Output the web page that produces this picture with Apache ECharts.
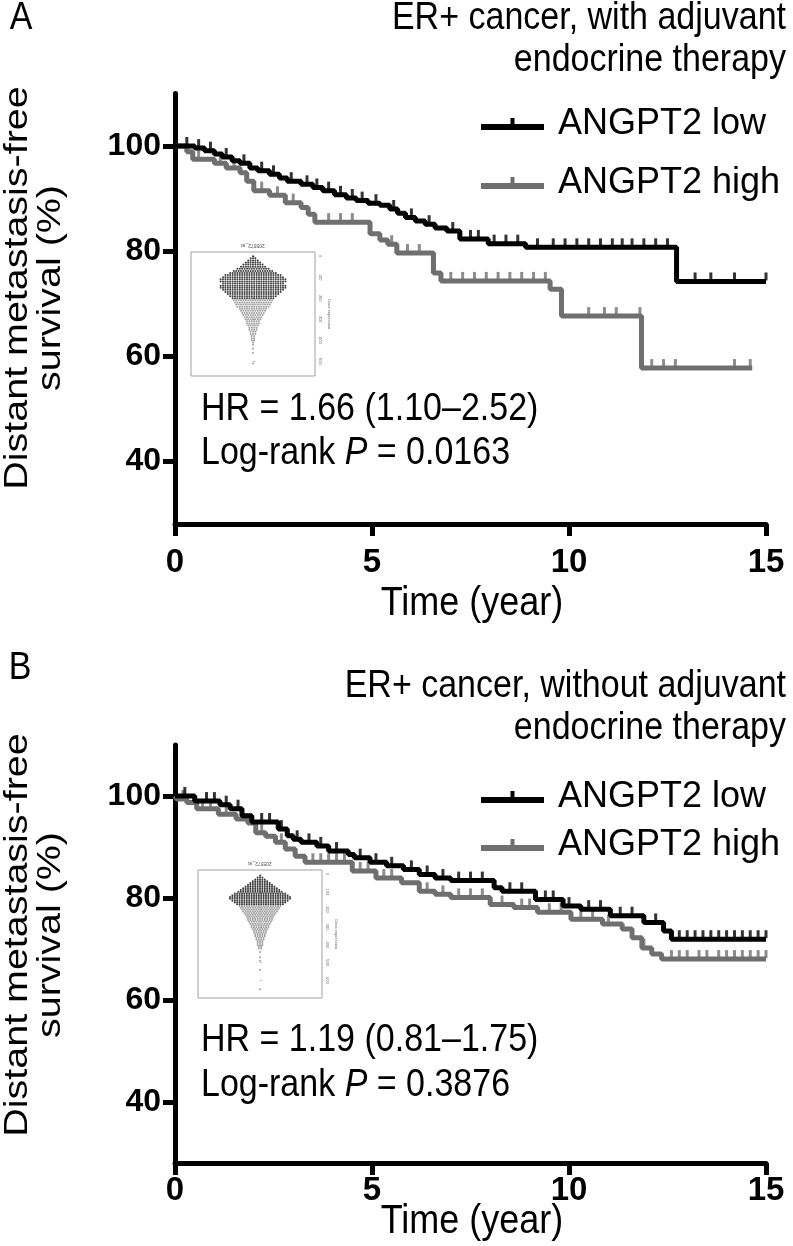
<!DOCTYPE html>
<html>
<head>
<meta charset="utf-8">
<script src="https://cdn.jsdelivr.net/npm/echarts@6/dist/echarts.min.js"></script>
<style>
html,body{margin:0;padding:0;background:#fff;}
#a,#b{position:absolute;left:0;width:793px;}
#a{top:0;height:650px;}
#b{top:650px;height:596px;}
</style>
</head>
<body>
<div id="a"></div>
<div id="b"></div>
<script>
// ---------- shared ----------
const FONT = '"Liberation Sans", Arial, sans-serif';
const seriesNames = ['ANGPT2 low', 'ANGPT2 high'];
const xTicks = [0, 5, 10, 15];
const yTicks = [40, 60, 80, 100];
const colLow = '#000000';
const colHigh = '#6f6f6f';

// ---------- Panel A : with adjuvant endocrine therapy ----------
const A_title = ['ER+ cancer, with adjuvant', 'endocrine therapy'];
const A_hr = 'HR = 1.66 (1.10\u20132.52)';
const A_p = '0.0163';
const A_lowSteps = [[0,100],[0.5,99.6],[0.75,99.1],[1.0,98.5],[1.2,97.9],[1.45,97.2],[1.65,96.7],[1.9,95.8],[2.1,95.3],[2.4,94.6],[2.65,93.9],[2.85,93.3],[3.2,92.7],[3.5,92.1],[3.75,91.5],[4.05,90.7],[4.35,90.1],[4.6,89.6],[4.9,89.1],[5.2,88.7],[5.45,88.0],[5.65,87.2],[5.85,86.4],[6.1,85.7],[6.35,85.1],[6.6,84.4],[6.9,83.8],[7.23,82.3],[7.95,81.4],[8.9,80.7],[12.73,74.2],[15,74.2]];
const A_highSteps = [[0,100],[0.3,98.9],[0.45,97.5],[1.0,96.7],[1.3,95.8],[1.65,94.9],[1.82,93.3],[2.0,91.5],[2.4,90.6],[2.8,89.2],[3.2,88.3],[3.38,87.0],[3.55,85.5],[4.95,83.3],[5.2,82.1],[5.4,81.3],[5.63,79.6],[6.56,75.8],[6.75,74.3],[9.52,72.7],[9.81,67.6],[11.84,57.7],[14.65,57.7]];
const A_lowCensor = [0.3,0.6,0.9,1.3,1.75,2.2,2.5,2.95,3.35,3.6,3.9,4.2,4.5,4.75,5.1,5.55,6.0,6.45,7.05,7.5,7.7,8.1,8.4,8.7,9.2,9.6,9.9,10.2,10.5,10.8,11.1,11.35,11.6,11.9,12.2,12.5,13.2,13.6,14.2,15.0];
const A_highCensor = [0.6,1.15,1.5,2.2,2.6,3.0,3.9,4.2,4.5,5.5,5.9,6.2,7.0,7.3,7.6,7.9,8.2,8.5,8.8,9.1,9.4,10.5,10.9,11.2,11.8,12.1,12.4,12.7,14.2,14.6];
// inset beeswarm: gene-expression rows and number of dots in each row
const A_swarmRows   = [0,10,20,30,40,50,60,70,80,90,100,110,120,130,140,150,160,170,180,190,200,210,220,230,240,250,260,270,280,290,300,310,320,330,340,350,360,370,380,390,400,410,420,440,460,510];
const A_swarmCounts = [1,3,5,7,9,11,14,17,20,24,26,28,28,26,28,28,26,24,22,20,18,17,16,15,14,12,11,10,9,8,7,6,6,5,4,4,3,3,2,2,2,1,1,1,1,1];
const A_swarmSplit = 205;
const A_swarmTicks = [0,100,200,300,400,500];

// ---------- Panel B : without adjuvant endocrine therapy ----------
const B_title = ['ER+ cancer, without adjuvant', 'endocrine therapy'];
const B_hr = 'HR = 1.19 (0.81\u20131.75)';
const B_p = '0.3876';
const B_lowSteps = [[0,100],[0.5,99.0],[1.14,98.3],[1.4,97.5],[1.7,96.1],[1.95,94.9],[2.62,93.5],[2.85,92.2],[3.0,91.5],[3.2,90.9],[3.6,90.2],[3.9,89.2],[4.4,88.5],[4.55,87.9],[4.95,87.0],[5.37,86.3],[5.8,85.6],[6.2,84.6],[6.6,83.9],[7.0,83.4],[8.1,82.0],[8.3,81.3],[9.15,79.7],[9.85,78.4],[10.3,77.8],[11.05,76.5],[11.9,75.2],[12.4,73.5],[12.6,71.9],[15,71.9]];
const B_highSteps = [[0,100],[0.05,99.4],[0.3,98.7],[0.55,97.5],[1.1,96.4],[1.55,95.5],[1.85,94.7],[2.05,92.8],[2.3,92.1],[2.55,90.9],[2.8,89.6],[3.05,88.2],[3.3,87.0],[4.5,85.3],[5.1,83.9],[5.75,83.0],[6.2,81.3],[6.6,80.7],[7.0,80.1],[8.0,78.7],[8.6,78.1],[9.2,77.2],[10.05,75.8],[10.85,74.9],[11.35,73.9],[11.6,72.2],[11.85,70.2],[12.1,69.0],[12.35,68.0],[15,68.0]];
const B_lowCensor = [0.25,0.8,1.0,1.3,1.6,2.2,2.4,2.7,3.1,3.4,3.7,4.1,4.7,5.1,5.5,6.0,6.4,6.8,7.2,7.5,7.8,8.5,8.8,9.4,9.6,10.0,10.5,10.8,11.3,11.6,12.2,12.8,13.0,13.2,13.4,13.6,13.8,14.0,14.2,14.4,14.6,14.8,15.0];
const B_highCensor = [0.2,0.7,0.9,1.3,1.7,2.2,2.7,3.5,3.7,3.9,4.1,4.3,4.7,4.9,5.3,5.5,6.4,6.8,7.2,7.5,7.8,8.3,8.8,9.0,9.5,9.8,10.3,10.6,11.0,11.9,12.6,12.8,13.0,13.3,13.5,13.8,14.0,14.2,14.4,14.6,14.8,15.0];
const B_swarmRows   = [10,20,30,40,50,60,70,80,90,100,110,120,130,140,150,160,170,180,190,200,210,220,230,240,250,260,270,280,290,300,310,320,330,340,350,360,370,380,390,400,410,420,440,470,490,540,650];
const B_swarmCounts = [1,3,5,7,9,11,13,15,17,19,22,24,26,26,24,22,20,18,17,16,15,14,13,12,11,11,10,9,8,8,7,6,6,5,5,4,4,3,3,3,2,2,1,1,1,1,1];
const B_swarmSplit = 180;
const B_swarmTicks = [0,100,200,300,400,500,600];

// ---------- helpers ----------
function fontAvailable(name) {
  const c = document.createElement('canvas').getContext('2d');
  const t = 'ANGPT2 high 0123456789';
  c.font = '40px monospace';
  const w0 = c.measureText(t).width;
  c.font = '40px "' + name + '", monospace';
  return c.measureText(t).width !== w0;
}
const HAS_NARROW = fontAvailable('Liberation Sans Narrow');
const Y_LABEL_FONT = HAS_NARROW ? '"Liberation Sans Narrow", "Liberation Sans", Arial' : FONT;
const Y_LABEL_SIZE = HAS_NARROW ? 34 : 32;

function survAt(steps, t) {
  let v = steps[0][1];
  for (const s of steps) { if (s[0] <= t) v = s[1]; else break; }
  return v;
}
function censorPts(steps, times) { return times.map(t => [t, survAt(steps, t)]); }
function swarm(rows, counts, split) {
  const lo = [], hi = [];
  rows.forEach((r, i) => {
    const n = counts[i];
    for (let k = 0; k < n; k++) {
      const p = [(k - (n - 1) / 2) * 2.4, r];
      (r < split ? lo : hi).push(p);
    }
  });
  return [lo, hi];
}
function txt(x, y, text, align, extra) {
  return Object.assign({
    type: 'text', x: x, y: y, scaleY: 1.14,
    style: { text: text, fontSize: 34, fontFamily: FONT, fill: '#000',
             align: align, verticalAlign: 'middle', textAlign: align, textVerticalAlign: 'middle' }
  }, extra || {});
}

function build(el, P) {
  const chart = echarts.init(el, null, { renderer: 'canvas' });
  const sw = swarm(P.swRows, P.swCounts, P.swSplit);
  const axisStyle = { color: '#000', width: 5 };
  const pLine = txt(201, P.pY, 'Log-rank {i|P} = ' + P.p, 'left');
  pLine.style.rich = { i: { fontStyle: 'italic', fontSize: 34, fontFamily: FONT, fill: '#000' } };
  const timeLbl = txt(472, P.timeY, 'Time (year)', 'center');
  timeLbl.style.fontSize = 36;
  const option = {
    animation: false,
    textStyle: { fontFamily: FONT },
    grid: [
      { left: 175, top: P.gridTop, width: 591, height: P.gridH, outerBoundsMode: 'none', containLabel: false },
      { left: P.inset.left, top: P.inset.top, width: 124, height: P.inset.h, show: true,
        borderColor: '#a0a0a0', borderWidth: 1, backgroundColor: 'transparent', outerBoundsMode: 'none', containLabel: false }
    ],
    xAxis: [
      { gridIndex: 0, type: 'value', min: 0, max: 15, interval: 5,
        axisLine: { show: true, onZero: false, lineStyle: axisStyle },
        axisTick: { show: true, length: 12, lineStyle: axisStyle },
        axisLabel: { margin: P.xLabelMargin, fontSize: 33, fontWeight: 'bold', color: '#000', fontFamily: FONT,
                     customValues: xTicks },
        splitLine: { show: false } },
      { gridIndex: 1, type: 'value', min: -62, max: 62, show: false }
    ],
    yAxis: [
      { gridIndex: 0, type: 'value', min: 28, max: 110,
        axisLine: { show: true, onZero: false, lineStyle: axisStyle },
        axisTick: { show: true, length: 12, lineStyle: axisStyle, customValues: yTicks },
        axisLabel: { margin: 14, fontSize: Y_LABEL_SIZE, fontWeight: 'bold', color: '#000', fontFamily: Y_LABEL_FONT,
                     customValues: yTicks },
        splitLine: { show: false } },
      { gridIndex: 1, type: 'value', position: 'right', inverse: true, min: P.swMin, max: P.swMax,
        axisLine: { show: false },
        axisTick: { show: true, length: 2, lineStyle: { color: '#777', width: 0.5 }, customValues: P.swTicks },
        axisLabel: { show: true, fontSize: 4, color: '#666', margin: 3, rotate: -90, customValues: P.swTicks },
        name: 'Gene expression', nameLocation: 'middle', nameRotate: -90, nameGap: 12,
        nameTextStyle: { fontSize: 4, color: '#666' },
        splitLine: { show: false } }
    ],
    legend: {
      orient: 'vertical', left: 476, top: P.legendTop, itemWidth: 63, itemHeight: 12, itemGap: P.legendGap,
      icon: 'path://M0,6H63V12H0Z M29.5,0H33.5V6H29.5Z',
      selectedMode: false,
      data: seriesNames,
      textStyle: { fontSize: 36, fontFamily: FONT, color: '#000', lineHeight: 40, padding: [0, 0, 0, 9] }
    },
    series: [
      { name: seriesNames[1], type: 'line', step: 'end', xAxisIndex: 0, yAxisIndex: 0, data: P.high,
        symbol: 'none', lineStyle: { color: colHigh, width: 5 }, itemStyle: { color: colHigh }, z: 2, silent: true },
      { name: 'censHigh', type: 'scatter', xAxisIndex: 0, yAxisIndex: 0, data: censorPts(P.high, P.highCens),
        symbol: 'rect', symbolSize: [3, 8], symbolOffset: [0, -5], itemStyle: { color: colHigh }, z: 2, silent: true },
      { name: seriesNames[0], type: 'line', step: 'end', xAxisIndex: 0, yAxisIndex: 0, data: P.low,
        symbol: 'none', lineStyle: { color: colLow, width: 5 }, itemStyle: { color: colLow }, z: 3, silent: true },
      { name: 'censLow', type: 'scatter', xAxisIndex: 0, yAxisIndex: 0, data: censorPts(P.low, P.lowCens),
        symbol: 'rect', symbolSize: [3, 8], symbolOffset: [0, -5], itemStyle: { color: colLow }, z: 3, silent: true },
      { name: 'swarmLow', type: 'scatter', xAxisIndex: 1, yAxisIndex: 1, data: sw[0],
        symbol: 'circle', symbolSize: 2, itemStyle: { color: '#111' }, silent: true },
      { name: 'swarmHigh', type: 'scatter', xAxisIndex: 1, yAxisIndex: 1, data: sw[1],
        symbol: 'circle', symbolSize: 2, itemStyle: { color: '#8a8a8a' }, silent: true }
    ],
    graphic: [
      txt(P.letterX, 18, P.letter, 'center'),
      txt(786, P.titleY[0], P.title[0], 'right'),
      txt(786, P.titleY[1], P.title[1], 'right'),
      { type: 'text', x: 34, y: P.yTitleY, rotation: Math.PI / 2, scaleX: 1.16,
        style: { text: 'Distant metastasis-free\nsurvival (%)', fontSize: 34, lineHeight: 33, fontFamily: FONT, fill: '#000',
        align: 'center', verticalAlign: 'middle', textAlign: 'center', textVerticalAlign: 'middle' } },
      txt(201, P.hrY, P.hr, 'left'),
      pLine,
      timeLbl,
      { type: 'text', x: P.inset.left + 62, y: P.inset.top - 7, rotation: Math.PI,
        style: { text: '205572_at', fontSize: 5, fontFamily: FONT, fill: '#555',
        align: 'center', verticalAlign: 'middle', textAlign: 'center', textVerticalAlign: 'middle' } }
    ]
  };
  chart.setOption(option);
  return chart;
}

build(document.getElementById('a'), {
  letter: 'A', letterX: 21, title: A_title, titleY: [18, 60], hr: A_hr, p: A_p,
  low: A_lowSteps, high: A_highSteps, lowCens: A_lowCensor, highCens: A_highCensor,
  swRows: A_swarmRows, swCounts: A_swarmCounts, swSplit: A_swarmSplit, swTicks: A_swarmTicks,
  swMin: -20, swMax: 570, inset: { left: 191, top: 252, h: 124 },
  gridTop: 93.5, gridH: 430.5, xLabelMargin: 22,
  legendTop: 99, legendGap: 19, hrY: 409, pY: 453, timeY: 604, yTitleY: 288
});
build(document.getElementById('b'), {
  letter: 'B', letterX: 20, title: B_title, titleY: [36, 78], hr: B_hr, p: B_p,
  low: B_lowSteps, high: B_highSteps, lowCens: B_lowCensor, highCens: B_highCensor,
  swRows: B_swarmRows, swCounts: B_swarmCounts, swSplit: B_swarmSplit, swTicks: B_swarmTicks,
  swMin: -23, swMax: 700, inset: { left: 198, top: 220, h: 128 },
  gridTop: 95, gridH: 418, xLabelMargin: 11,
  legendTop: 122, legendGap: 8, hrY: 390, pY: 435, timeY: 572, yTitleY: 285
});
</script>
</body>
</html>
